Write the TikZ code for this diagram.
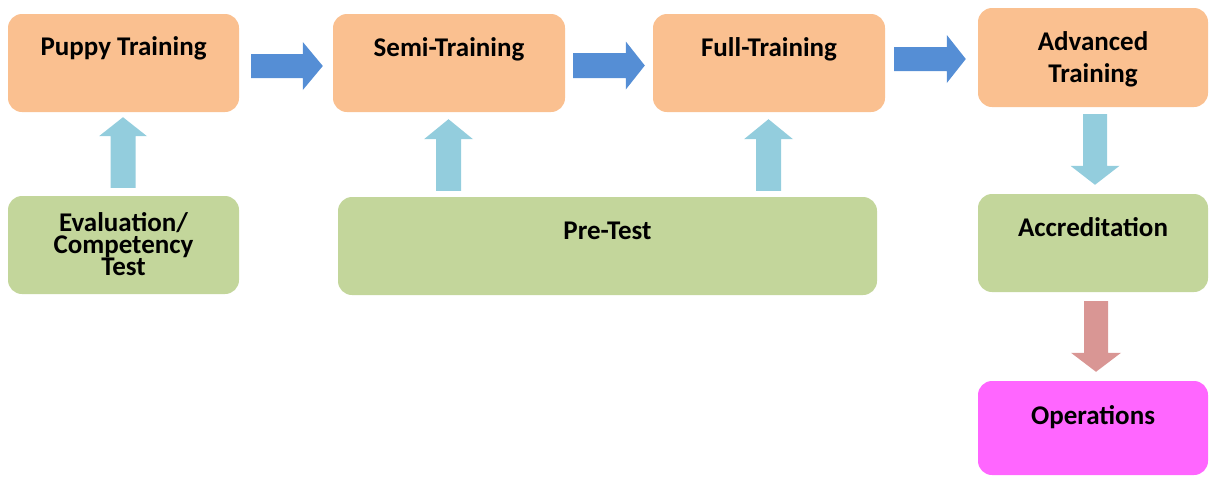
\documentclass[tikz,border=0pt]{standalone}
\usepackage{fontspec}
\setmainfont{Carlito}
\usetikzlibrary{calc}

\definecolor{boxorange}{HTML}{FAC090}
\definecolor{boxgreen}{HTML}{C3D69B}
\definecolor{boxpink}{HTML}{FF66FF}
\definecolor{flowblue}{HTML}{558ED5}
\definecolor{feedblue}{HTML}{93CDDD}
\definecolor{flowred}{HTML}{D99694}

% block arrow from #1 to #2: shaft half width #3, head half width #4, head length #5, colour #6
\newcommand\blockarrow[6]{%
  \coordinate (hb) at ($(#2)!#5!(#1)$);
  \fill[#6] ($(#1)!#3!90:(#2)$) -- ($(hb)!#3!-90:(#1)$) -- ($(hb)!#4!-90:(#1)$) -- (#2)
    -- ($(hb)!#4!90:(#1)$) -- ($(hb)!#3!90:(#1)$) -- ($(#1)!#3!-90:(#2)$) -- cycle;
}

\tikzset{
  stage/.style={rectangle, rounded corners=14pt, inner sep=0pt, minimum height=98pt},
  label/.style={font=\fontsize{27}{22}\selectfont\bfseries, inner sep=0pt, anchor=base, align=center},
}

\begin{document}
\begin{tikzpicture}[x=1pt, y=-1pt]
\useasboundingbox (0,0) rectangle (1209,477);

% stages
\node[stage, fill=boxorange, minimum width=231pt] (puppy) at (123.5,63) {};
\node[stage, fill=boxorange, minimum width=232pt] (semi) at (449,63) {};
\node[stage, fill=boxorange, minimum width=232pt] (full) at (769,63) {};
\node[stage, fill=boxorange, minimum width=230pt, minimum height=99pt] (adv) at (1093,57.5) {};
\node[stage, fill=boxgreen, minimum width=231pt] (eval) at (123.5,245) {};
\node[stage, fill=boxgreen, minimum width=539pt] (pretest) at (607.5,246) {};
\node[stage, fill=boxgreen, minimum width=230pt] (accred) at (1093,243) {};
\node[stage, fill=boxpink, minimum width=230pt, minimum height=94pt] (ops) at (1093,428) {};

% labels (multi-line labels sit on the baseline of their last line)
\node[label] (tpuppy) at (123.5,55) {Puppy Training};
\node[label] (tsemi) at (449,56) {Semi-Training};
\node[label] (tfull) at (769,56) {Full-Training};
\node[label] (tadv) at (1093,82) {Advanced\\[10pt]Training};
\node[label] (teval) at (123.5,275) {Evaluation/\\Competency\\Test};
\node[label] (tpre) at (607.5,239) {Pre-Test};
\node[label] (taccred) at (1093,236) {Accreditation};
\node[label] (tops) at (1093,424) {Operations};

% connector end points
\coordinate (a1s) at ($(puppy.east)+(12,3)$);
\coordinate (a1e) at ($(semi.west)+(-10,3)$);
\coordinate (a2s) at ($(semi.east)+(8,2.5)$);
\coordinate (a2e) at ($(full.west)+(-8,2.5)$);
\coordinate (a3s) at ($(full.east)+(9,-4)$);
\coordinate (a3e) at ($(adv.west)+(-12,1.5)$);
\coordinate (u1s) at ($(eval.north)+(-0.5,-8)$);
\coordinate (u1e) at ($(puppy.south)+(-0.5,5)$);
\coordinate (u2s) at ($(pretest.north)+(-159,-6)$);
\coordinate (u2e) at ($(semi.south)+(-0.5,7)$);
\coordinate (u3s) at ($(pretest.north)+(161,-6)$);
\coordinate (u3e) at ($(full.south)+(-0.5,7)$);
\coordinate (d1s) at ($(adv.south)+(2,7)$);
\coordinate (d1e) at ($(accred.north)+(2,-9)$);
\coordinate (d2s) at ($(accred.south)+(3,9)$);
\coordinate (d2e) at ($(ops.north)+(3,-9)$);

% connectors
\blockarrow{a1s}{a1e}{12pt}{24pt}{20pt}{flowblue}
\blockarrow{a2s}{a2e}{12.5pt}{24pt}{19pt}{flowblue}
\blockarrow{a3s}{a3e}{12pt}{24pt}{19pt}{flowblue}
\blockarrow{u1s}{u1e}{12.5pt}{24pt}{19pt}{feedblue}
\blockarrow{u2s}{u2e}{12.5pt}{24.5pt}{20pt}{feedblue}
\blockarrow{u3s}{u3e}{12.5pt}{24.5pt}{20pt}{feedblue}
\blockarrow{d1s}{d1e}{12pt}{24.5pt}{19pt}{feedblue}
\blockarrow{d2s}{d2e}{12pt}{25pt}{19pt}{flowred}
\end{tikzpicture}
\end{document}
